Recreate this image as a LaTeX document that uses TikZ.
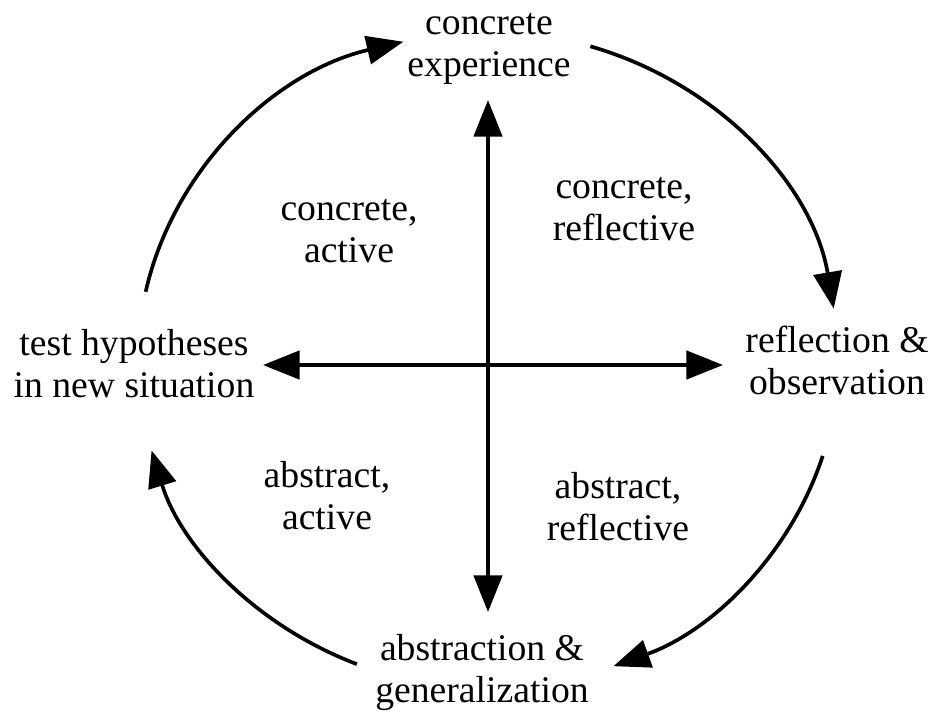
\documentclass[tikz,border=0pt]{standalone}
\usepackage{fontspec}
\setmainfont{Liberation Serif}
\usetikzlibrary{arrows.meta,calc}
\tikzset{
  lbl/.style={align=center,inner sep=0pt,font=\fontsize{11.3}{12.6}\selectfont},
  cyc/.style={line width=1.1pt,-{Triangle[length=11pt,width=8.5pt]}},
  axis/.style={line width=1.1pt,{Triangle[length=11pt,width=8.5pt]}-{Triangle[length=11pt,width=8.5pt]}}
}
\begin{document}
\begin{tikzpicture}[x=0.3pt,y=0.3pt]
\useasboundingbox[fill=white] (0,0) rectangle (931,711);
% main labels
\node[lbl] (ce) at (489,664) {\strut concrete\\\strut experience};
\node[lbl] (th) at (134,342.5) {\strut test hypotheses\\\strut in new situation};
\node[lbl] (ro) at (837,346) {\strut reflection \&\\\strut observation};
\node[lbl] (ag) at (482,37.5) {\strut abstraction \&\\\strut generalization};
% quadrant labels
\node[lbl] (ca) at (349,478) {\strut concrete,\\\strut active};
\node[lbl] (cr) at (624,499.5) {\strut concrete,\\\strut reflective};
\node[lbl] (aa) at (327,211) {\strut abstract,\\\strut active};
\node[lbl] (ar) at (618,199.5) {\strut abstract,\\\strut reflective};
% cross
\coordinate (top) at (488,611);
\coordinate (bot) at (488,99);
\coordinate (lft) at (263,346);
\coordinate (rgt) at (723,346);
\draw[axis] (bot) -- (top);
\draw[axis] (lft) -- (rgt);
% cycle arcs
\coordinate (O) at (488,351);
\coordinate (tl) at ($(O)+(168:350 and 328)$);
\coordinate (tr) at ($(O)+(73:350 and 328)$);
\coordinate (br) at ($(O)+(-17:350 and 328)$);
\coordinate (bl) at ($(O)+(-112:350 and 328)$);
\draw[cyc] (tl) arc[start angle=168,end angle=104,x radius=350,y radius=328];
\draw[cyc] (tr) arc[start angle=73,end angle=9,x radius=350,y radius=328];
\draw[cyc] (br) arc[start angle=-17,end angle=-69,x radius=350,y radius=328];
\draw[cyc] (bl) arc[start angle=-112,end angle=-164,x radius=350,y radius=328];
\end{tikzpicture}
\end{document}
